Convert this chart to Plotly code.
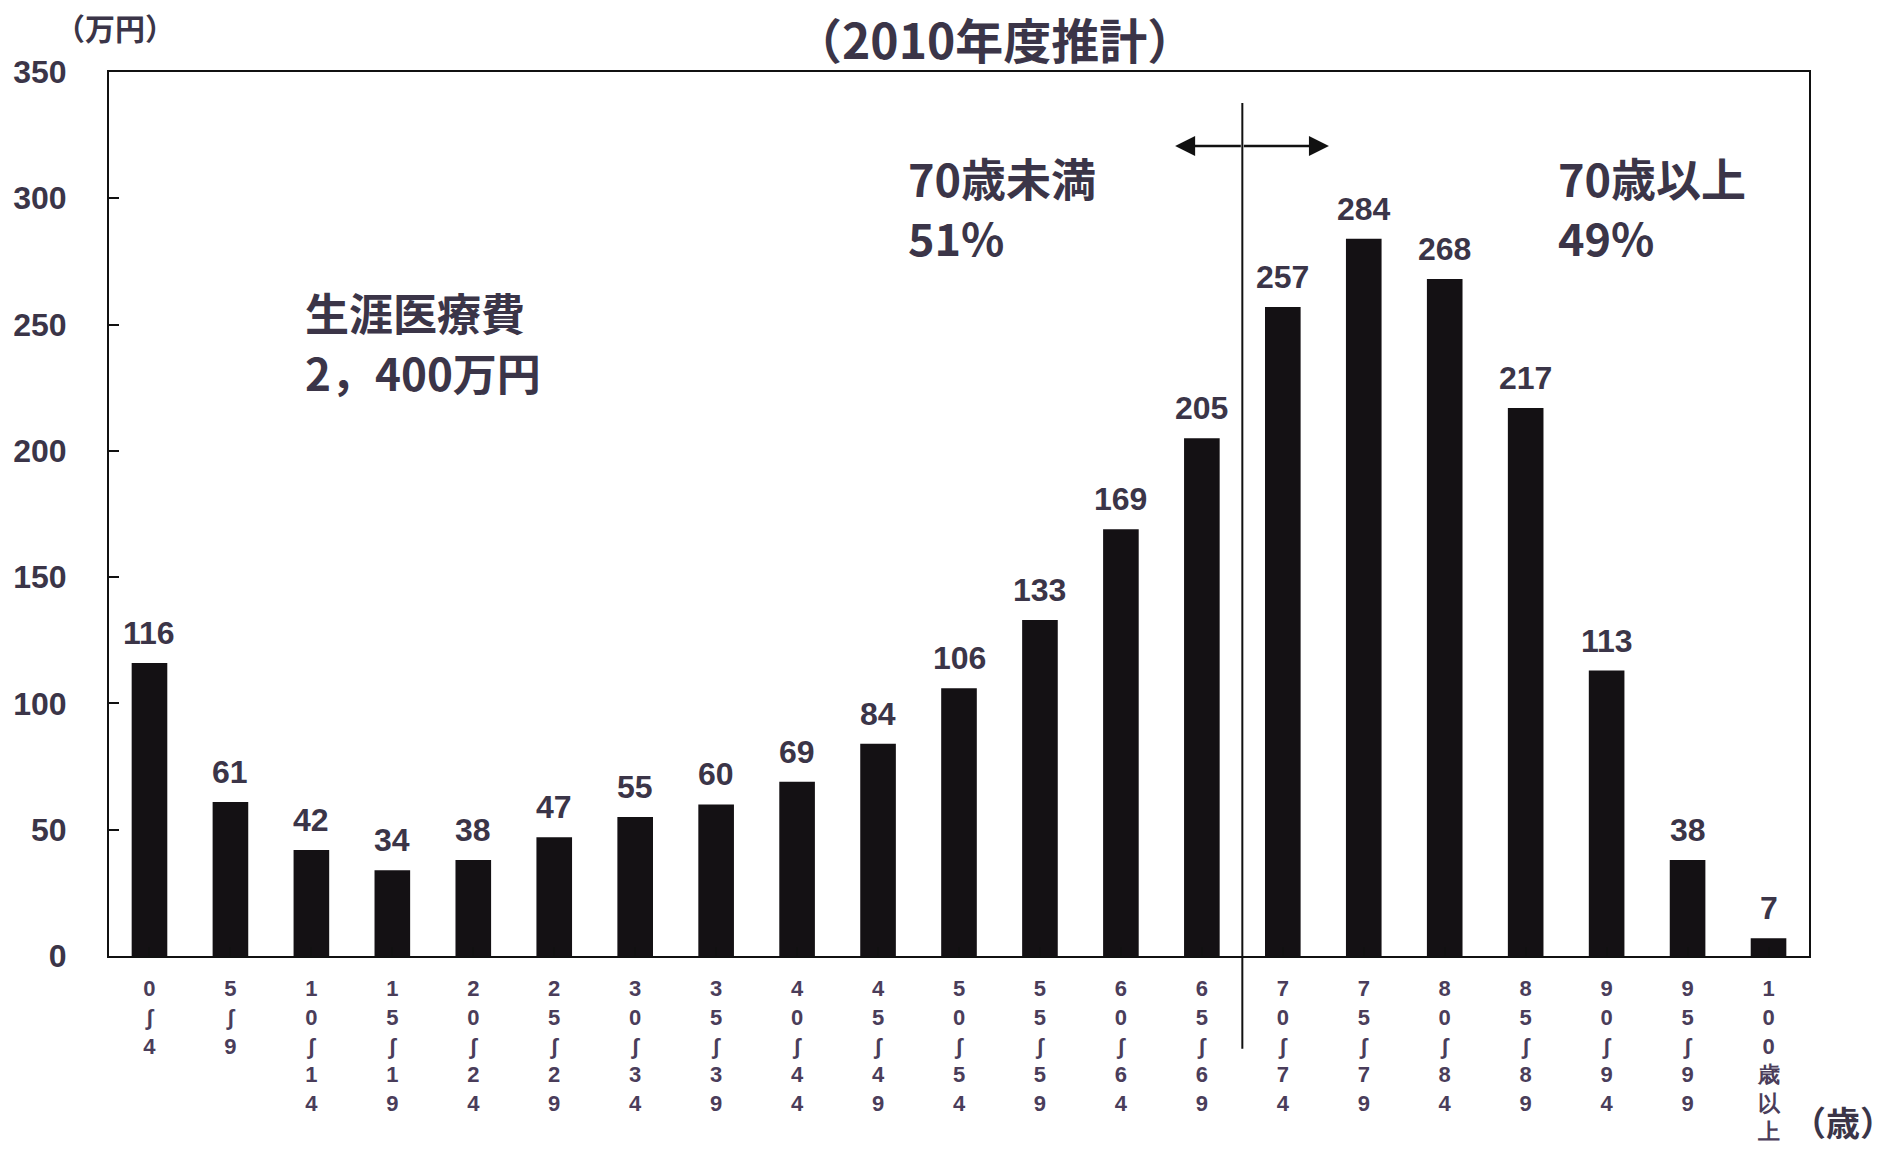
import plotly.graph_objects as go

age_groups = ["0<br>∫<br>4", "5<br>∫<br>9", "1<br>0<br>∫<br>1<br>4", "1<br>5<br>∫<br>1<br>9",
              "2<br>0<br>∫<br>2<br>4", "2<br>5<br>∫<br>2<br>9", "3<br>0<br>∫<br>3<br>4", "3<br>5<br>∫<br>3<br>9",
              "4<br>0<br>∫<br>4<br>4", "4<br>5<br>∫<br>4<br>9", "5<br>0<br>∫<br>5<br>4", "5<br>5<br>∫<br>5<br>9",
              "6<br>0<br>∫<br>6<br>4", "6<br>5<br>∫<br>6<br>9", "7<br>0<br>∫<br>7<br>4", "7<br>5<br>∫<br>7<br>9",
              "8<br>0<br>∫<br>8<br>4", "8<br>5<br>∫<br>8<br>9", "9<br>0<br>∫<br>9<br>4", "9<br>5<br>∫<br>9<br>9",
              "1<br>0<br>0<br>歳<br>以<br>上"]
costs = [116, 61, 42, 34, 38, 47, 55, 60, 69, 84, 106, 133, 169, 205, 257, 284, 268, 217, 113, 38, 7]
y_ticks = [0, 50, 100, 150, 200, 250, 300, 350]

TXT = "#3b3548"
NUM_FONT = "Liberation Sans, Arial, sans-serif"
JP_FONT = "Noto Sans CJK JP, sans-serif"

x_idx = list(range(len(costs)))

fig = go.Figure()
fig.add_trace(go.Bar(
    x=x_idx, y=costs, width=0.44,
    marker=dict(color="#141114", line=dict(width=0)),
    cliponaxis=False,
))
for i, v in zip(x_idx, costs):
    fig.add_annotation(x=i, y=v, xref="x", yref="y", text=str(v), showarrow=False,
                       yanchor="bottom", yshift=10,
                       font=dict(family=NUM_FONT, size=32, color=TXT, weight="bold"))

fig.update_layout(
    width=1895, height=1149,
    margin=dict(l=109, r=86, t=72, b=193, autoexpand=False),
    paper_bgcolor="white", plot_bgcolor="white",
    showlegend=False,
)
fig.update_xaxes(
    range=[-0.5, len(costs) - 0.5], automargin=False,
    tickmode="array", tickvals=x_idx, ticktext=age_groups,
    tickson="boundaries",
    tickfont=dict(family=NUM_FONT, size=22, color="#4a3d5a", weight="bold"),
    showgrid=False, zeroline=False,
    showline=True, linecolor="#111", linewidth=2, mirror=True,
    ticks="inside", ticklen=9, tickwidth=2, tickcolor="#111", ticklabelstandoff=12,
)
fig.update_yaxes(
    range=[0, 350], automargin=False, tickmode="array", tickvals=y_ticks,
    tickfont=dict(family=NUM_FONT, size=32, color=TXT, weight="bold"),
    showgrid=False, zeroline=False,
    showline=True, linecolor="#111", linewidth=2, mirror=True,
    ticks="inside", ticklen=10, tickwidth=2, tickcolor="#111", ticklabelstandoff=34,
)

# divider between 65-69 and 70-74
fig.add_shape(type="line", xref="x", yref="paper", x0=13.5, x1=13.5, y0=-0.105, y1=0.965,
              line=dict(color="#111", width=2))
# double arrow
for xend in [12.67, 14.57]:
    fig.add_annotation(x=xend, y=320.7, ax=13.5, ay=320.7, xref="x", yref="y", axref="x", ayref="y",
                       showarrow=True, arrowhead=2, arrowsize=1.6, arrowwidth=2.5, arrowcolor="#111", text="")

def txt(s, x, y, size, xanchor="left", weight="bold", font=JP_FONT, height=None):
    fig.add_annotation(text=s, x=x, y=y, xref="paper", yref="paper",
                       xanchor=xanchor, yanchor="middle", showarrow=False, align="left",
                       height=height,
                       font=dict(family=font, size=size, color=TXT, weight=weight))

txt("（2010年度推計）", 0.521, 1.038, 48, xanchor="center")
txt("（万円）", 0.0035, 1.051, 30, xanchor="center")
txt("（歳）", 1.02, -0.187, 34, xanchor="center")
txt("70歳未満", 0.469, 0.881, 45, height=54)
txt("51%", 0.469, 0.814, 45, height=54)
txt("70歳以上", 0.851, 0.881, 45, height=54)
txt("49%", 0.851, 0.814, 45, height=54)
txt("生涯医療費", 0.114, 0.7285, 44, height=54)
txt("2，400万円", 0.114, 0.661, 44, height=54)

fig.write_html("out.html")
